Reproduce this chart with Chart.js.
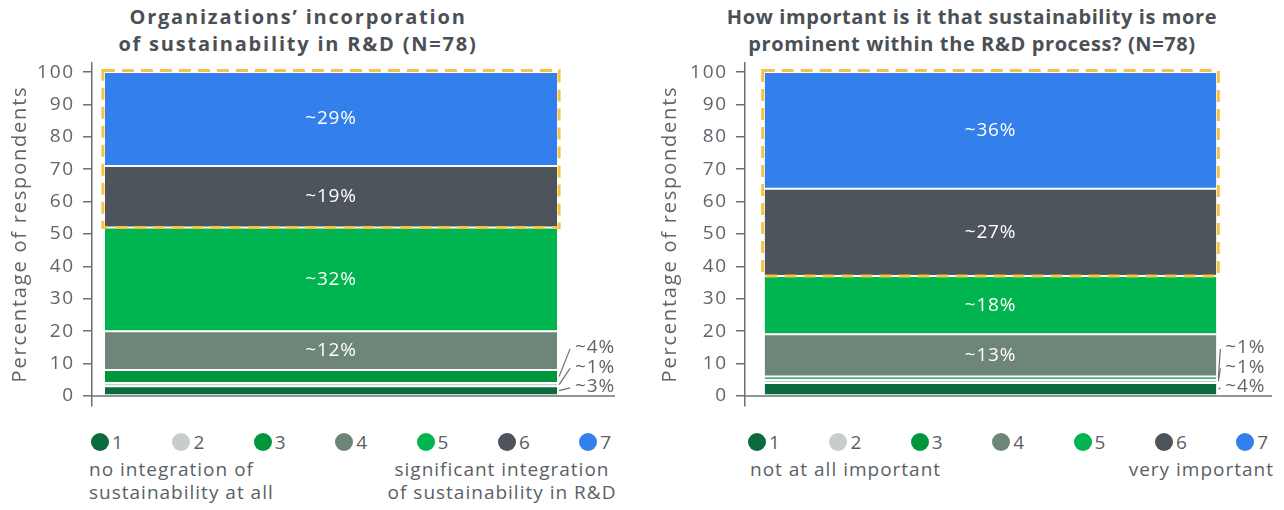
<!DOCTYPE html>
<html>
<head>
<meta charset="utf-8">
<script src="https://cdn.jsdelivr.net/npm/chart.js@4.4.1/dist/chart.umd.min.js"></script>
<style>
  body { margin:0; width:1284px; height:510px; background:#fff; font-family:"Open Sans", sans-serif; color:#5a5f66; position:relative; overflow:hidden; }
  .title { position:absolute; top:3px; font-weight:700; font-size:20px; line-height:27px; color:#4b5056; text-align:center; transform:translateX(-50%); white-space:nowrap; }
  .wrap { position:absolute; top:43px; height:382px; }
  .legend { position:absolute; top:431px; display:flex; font-size:19px; line-height:22px; }
  .legend .item { width:81.4px; display:flex; align-items:center; }
  .legend .dot { width:18px; height:18px; border-radius:50%; margin-right:3px; }
  .note { position:absolute; font-size:19px; line-height:23px; letter-spacing:1px; white-space:nowrap; }
</style>
</head>
<body>
<div class="title" style="left:298px;letter-spacing:1.8px">Organizations’ incorporation<br>of sustainability in R&amp;D (N=78)</div>
<div class="title" style="left:972px;letter-spacing:0.6px">How important is it that sustainability is more<br>prominent within the R&amp;D process? (N=78)</div>

<div class="wrap" style="left:0;width:640px"><canvas id="c-left"></canvas></div>
<div class="wrap" style="left:650px;width:634px"><canvas id="c-right"></canvas></div>

<div class="legend" id="lg-left" style="left:91px"></div>
<div class="legend" id="lg-right" style="left:748px"></div>

<div class="note" style="left:89px;top:458px">no integration of<br>sustainability at all</div>
<div class="note" style="left:382px;top:458px;width:240px;text-align:center">significant integration<br>of sustainability in R&amp;D</div>
<div class="note" style="left:750px;top:458px">not at all important</div>
<div class="note" style="left:1074px;top:458px;width:200px;text-align:right">very important</div>

<script>
// scale points 1..7
const levels = ['1', '2', '3', '4', '5', '6', '7'];
const colors = ['#0b6b3d', '#c5cecb', '#00963b', '#6e857a', '#00b450', '#4d545b', '#3380ec'];

// left: incorporation of sustainability in R&D
const leftValues = [3, 1, 4, 12, 32, 19, 29];
const leftLabels = ['~3%', '~1%', '~4%', '~12%', '~32%', '~19%', '~29%'];
// right: importance of sustainability in R&D process
const rightValues = [4, 1, 1, 13, 18, 27, 36];
const rightLabels = ['~4%', '~1%', '~1%', '~13%', '~18%', '~27%', '~36%'];

const yTicks = [0, 10, 20, 30, 40, 50, 60, 70, 80, 90, 100];
const yTitle = 'Percentage of respondents';

const AXIS = '#6b7075';
const TXT = '#5f656b';
const FONT = '"Open Sans", sans-serif';

// legend rows
['lg-left', 'lg-right'].forEach(id => {
  document.getElementById(id).innerHTML = levels.map((l, i) =>
    `<div class="item"><span class="dot" style="background:${colors[i]}"></span>${l}</div>`).join('');
});

// the source font is wide, so space the canvas text out a bit
const spacing = {
  id: 'spacing',
  beforeDraw(chart) { chart.ctx.letterSpacing = '1.8px'; }
};

// x-axis line, in-bar labels, small outside labels, dashed highlight box
const decor = {
  id: 'decor',
  afterDatasetsDraw(chart, args, o) {
    const ctx = chart.ctx, y = chart.scales.y, ca = chart.chartArea;
    const labels = o.labels;
    const y0 = y.getPixelForValue(0);
    ctx.save();
    ctx.strokeStyle = AXIS; ctx.lineWidth = 1.5;
    ctx.beginPath(); ctx.moveTo(ca.left, y0); ctx.lineTo(ca.right + o.extend, y0); ctx.stroke();

    ctx.font = '19px ' + FONT;
    ctx.letterSpacing = '0.8px';
    ctx.textBaseline = 'middle';
    const bars = chart.data.datasets.map((d, i) => chart.getDatasetMeta(i).data[0]);
    bars.forEach((b, i) => {
      const v = chart.data.datasets[i].data[0];
      if (v < 10) return;
      ctx.fillStyle = '#fff'; ctx.textAlign = 'center';
      ctx.fillText(labels[i], b.x, (b.y + b.base) / 2);
    });

    // the three small segments get labels to the right with leader lines
    const right = bars[0].x + bars[0].width / 2;
    const tx = right + o.gap;
    ctx.textAlign = 'left'; ctx.fillStyle = TXT;
    ctx.strokeStyle = '#6b7075'; ctx.lineWidth = 1.2;
    for (let i = 0; i < 3; i++) {
      const b = bars[i];
      const ly = y0 - 9 - 19.5 * i;
      const mid = (b.y + b.base) / 2;
      ctx.fillText(labels[i], tx, ly);
      ctx.beginPath(); ctx.moveTo(right + 2, mid); ctx.lineTo(tx - 5, ly + 1); ctx.stroke();
    }

    // dashed box round top two segments
    const top = bars[6], low = bars[5];
    const l = top.x - top.width / 2 - 2, r = top.x + top.width / 2 + 2;
    ctx.setLineDash([12, 7]);
    ctx.strokeStyle = '#f6c343'; ctx.lineWidth = 3;
    ctx.strokeRect(l, top.y - 1.5, r - l, low.base - top.y + 1.5);
    ctx.restore();
  }
};

function makeChart(id, values, labels, opt) {
  new Chart(document.getElementById(id), {
    type: 'bar',
    data: {
      labels: [''],
      datasets: values.map((v, i) => ({
        label: levels[i], data: [v], backgroundColor: colors[i],
        borderColor: '#fff', borderWidth: { top: 1, bottom: 1, left: 0, right: 0 }, borderSkipped: false,
        categoryPercentage: 1, barPercentage: opt.barPct
      }))
    },
    options: {
      responsive: true, maintainAspectRatio: false, animation: false,
      layout: { padding: { top: 12, right: opt.padRight, bottom: 15, left: 0 } },
      plugins: { legend: { display: false }, tooltip: { enabled: false },
        decor: { labels, extend: opt.extend, gap: opt.gap } },
      scales: {
        x: { stacked: true, display: false },
        y: {
          stacked: true, min: -3, max: 103,
          afterBuildTicks: ax => { ax.ticks = yTicks.map(v => ({ value: v })); },
          afterFit: s => { s.width = opt.axisWidth; },
          ticks: { color: TXT, font: { family: FONT, size: 19 }, padding: 8 },
          grid: { drawOnChartArea: false, tickLength: 9, color: AXIS, lineWidth: 1.5 },
          border: { color: AXIS, width: 1.5 },
          title: { display: true, text: yTitle, color: TXT, font: { family: FONT, size: 20 }, padding: { top: 8, bottom: 0 } }
        }
      }
    },
    plugins: [spacing, decor]
  });
}

makeChart('c-left', leftValues, leftLabels, { axisWidth: 92, padRight: 70, barPct: 0.946, extend: 45, gap: 18 });
makeChart('c-right', rightValues, rightLabels, { axisWidth: 95, padRight: 48, barPct: 0.92, extend: 36, gap: 9 });
</script>
</body>
</html>
